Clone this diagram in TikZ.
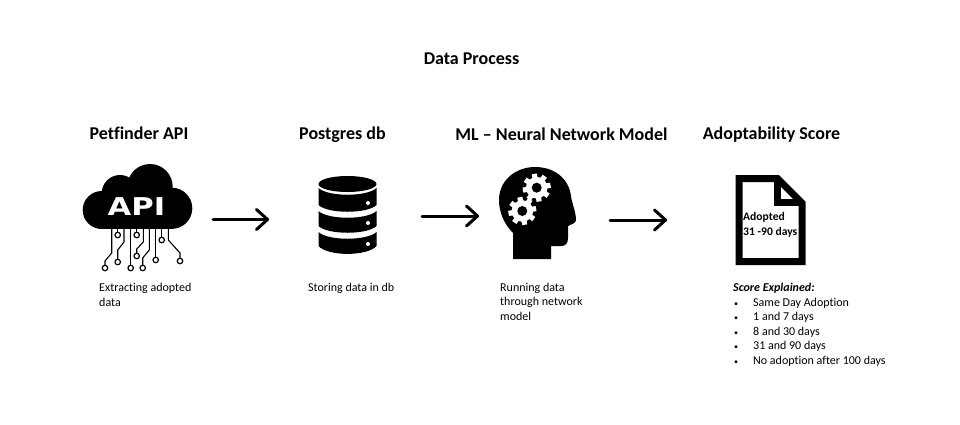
\documentclass[tikz,border=0pt]{standalone}
\usepackage{fontspec}
\setmainfont[Ligatures=NoCommon]{Carlito}
\newfontfamily\apifont{DejaVu Sans}
\newcommand{\bul}{\makebox[20pt][l]{\hspace{1pt}\fontsize{8}{8}\selectfont\textbullet}}
\tikzset{
  head/.style={font=\fontsize{18}{22}\selectfont\bfseries,anchor=base,inner sep=0},
  body/.style={font=\fontsize{12}{14.5}\selectfont,anchor=north west,inner sep=0,align=left},
  flow/.style={line width=3pt,line cap=round,line join=round},
  wire/.style={line width=1.1pt,line join=round},
  pin/.style={circle,draw=black,line width=1.2pt,fill=white,minimum size=5.5pt,inner sep=0},
  iconfill/.style={fill=black,draw=none}
}
\begin{document}
\begin{tikzpicture}[x=1pt,y=-1pt]
\useasboundingbox (0,0) rectangle (960,424);
\fill[white] (0,0) rectangle (960,424);
\node[head] (title) at (471.5,64) {Data Process};
\node[head] (h1) at (139,139.7) {Petfinder API};
\node[head] (h2) at (342.5,139.7) {Postgres db};
\node[head] (h3) at (561.5,140.7) {ML – Neural Network Model};
\node[head] (h4) at (771.5,139.7) {Adoptability Score};
% cloud
\fill[iconfill] (150,186.7) circle (22.7) (101.7,210) circle (19) (120,193.3) circle (18.3) (171.7,208.3) circle (20.6);
\fill[iconfill] (102,195) rectangle (172,229);
\node[font=\fontsize{24.5}{26}\selectfont\bfseries\apifont,text=white,inner sep=0,xscale=1.25] (api) at (136.5,207) {API};
% wires
\draw[wire] (111.7,228) -- (111.7,253) -- (105,261) -- (105,268);
\draw[wire] (117.7,228) -- (117.7,235);
\draw[wire] (124,228) -- (124,242) -- (117.7,250) -- (117.7,262);
\draw[wire] (130.7,228) -- (130.7,268);
\draw[wire] (136.7,228) -- (136.7,235);
\draw[wire] (143.3,228) -- (143.3,242) -- (136.7,249) -- (136.7,256);
\draw[wire] (149.3,228) -- (149.3,250) -- (142.7,258) -- (142.7,268);
\draw[wire] (155.7,228) -- (155.7,260);
\draw[wire] (161.7,228) -- (161.7,240);
\draw[wire] (168.3,228) -- (168.3,240) -- (180,253) -- (180,261);
\foreach \p/\q in {a/{105,268},b/{117.7,235},c/{117.7,262},d/{130.7,268},e/{136.7,235},f/{136.7,256},g/{142.7,268},h/{155.7,260},i/{161.7,240},j/{180,261}}
  \node[pin] (pin\p) at (\q) {};
% arrows
\coordinate (a1s) at (213,219.5); \coordinate (a1e) at (267.5,219.5);
\coordinate (a2s) at (422,216); \coordinate (a2e) at (477.5,216);
\coordinate (a3s) at (610,220); \coordinate (a3e) at (665.5,220);
\foreach \s/\e in {a1s/a1e,a2s/a2e,a3s/a3e}{
  \draw[flow] (\s) -- (\e);
  \draw[flow] ([shift={(-11,-10)}]\e) -- (\e) -- ([shift={(-11,10)}]\e);
}
% db
\fill[iconfill] (347.5,184) ellipse (29 and 8);
\fill[iconfill] (318.5,188) .. controls (328,197) and (367,197) .. (376.5,188) -- (376.5,205) .. controls (367,214) and (328,214) .. (318.5,205) -- cycle;
\fill[iconfill] (318.5,211) .. controls (328,220) and (367,220) .. (376.5,211) -- (376.5,226) .. controls (367,235) and (328,235) .. (318.5,226) -- cycle;
\fill[iconfill] (318.5,232) .. controls (328,241) and (367,241) .. (376.5,232) -- (376.5,246) .. controls (367,256.5) and (328,256.5) .. (318.5,246) -- cycle;
\fill[white] (368,203) circle (2) (368,223) circle (2) (368,244) circle (2);
% head
\fill[iconfill] (513,259) -- (513,233) .. controls (504,224) and (499,212) .. (499,200)
 .. controls (499,180) and (516,167) .. (535,167)
 .. controls (556,167) and (569,180) .. (571,196)
 .. controls (572,204) and (576,212) .. (576,220)
 .. controls (576,223) and (572,224) .. (568,226)
 -- (568,238) .. controls (568,243) and (566,246) .. (561,246)
 -- (551,246) -- (551,259) -- cycle;
\foreach \c in {{536.7,187.7},{522.3,211}}{
  \fill[white] (\c) circle (10.8);
  \foreach \a in {0,45,...,315}
    \fill[white,shift={(\c)},rotate=\a+10] (-2.6,-14) rectangle (2.6,-9);
  \fill[black] (\c) circle (5);
}
% doc
\draw[line width=7pt,miter limit=10] (739,178.5) -- (777.5,178.5) -- (802,203) -- (802,261.5) -- (739,261.5) -- cycle;
\draw[line width=7pt] (777.5,178.5) -- (777.5,202) -- (802,202);
\node[body,font=\fontsize{11.6}{14.5}\selectfont\bfseries] (doctext) at (743,212.5) {Adopted\\31 -90 days};
% captions
\node[body] (c1) at (99,283) {Extracting adopted\\data};
\node[body] (c2) at (308,283) {Storing data in db};
\node[body] (c3) at (500,282.5) {Running data\\through network\\model};
\node[body,font=\fontsize{12}{14.5}\selectfont\bfseries\itshape] (c4) at (733,283) {Score Explained:};
\node[body] (c5) at (733,297.5) {\bul Same Day Adoption\\\bul 1 and 7 days\\\bul 8 and 30 days\\\bul 31 and 90 days\\\bul No adoption after 100 days};
\end{tikzpicture}
\end{document}
